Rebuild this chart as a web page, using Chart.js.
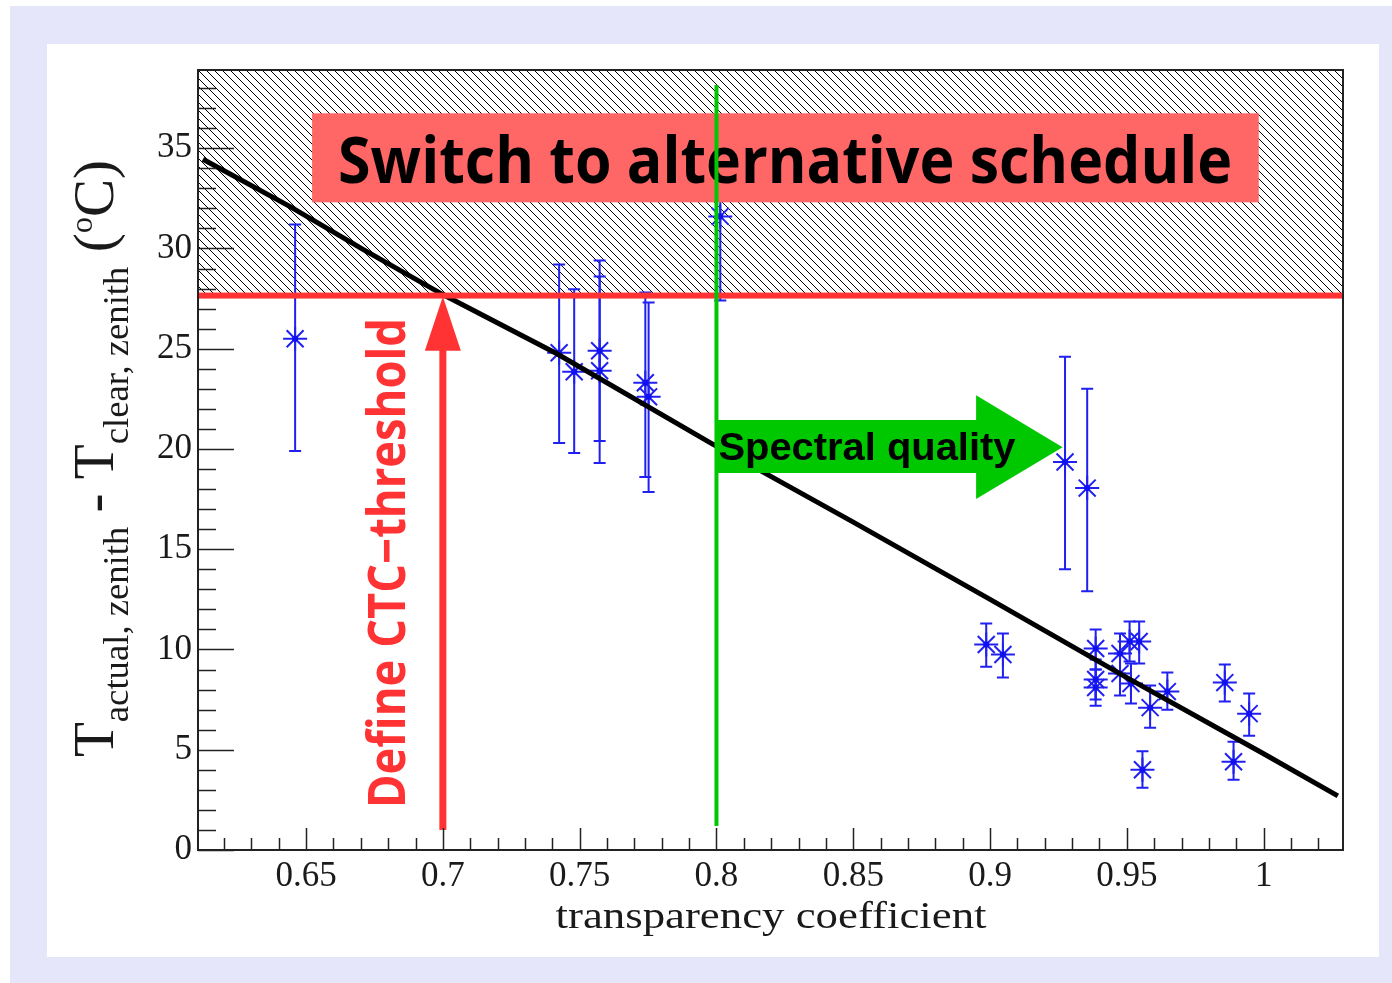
<!DOCTYPE html>
<html>
<head>
<meta charset="utf-8">
<script src="https://cdn.jsdelivr.net/npm/chart.js@4.4.1/dist/chart.umd.min.js"></script>
<style>
  html, body { margin: 0; padding: 0; background: #ffffff; }
  canvas { display: block; }
</style>
</head>
<body>
<canvas id="chart" width="1392" height="983"></canvas>
<script>
// Measured points (transparency coefficient vs temperature difference)
const xValues = [0.646, 0.8014, 0.7425, 0.748, 0.7573, 0.7573, 0.774, 0.7752, 0.9274, 0.9355,
    0.8986, 0.9047, 0.9386, 0.9386, 0.9386, 0.9475, 0.9475, 0.951, 0.9545, 0.9515,
    0.9585, 0.9648, 0.9557, 0.9858, 0.989, 0.9947];
const yValues = [25.5, 31.6, 24.8, 23.85, 24.9, 23.9, 23.3, 22.6, 19.35, 18.05,
    10.25, 9.75, 10.05, 8.5, 8.1, 9.8, 8.8, 10.4, 10.4, 8.3,
    7.1, 7.9, 4.0, 8.35, 4.4, 6.8];
// Error bar ends
const yLow = [19.9, 27.4, 20.3, 19.8, 20.4, 19.3, 18.6, 17.85, 14.0, 12.9,
    9.14, 8.6, 9.0, 7.5, 7.2, 8.8, 7.7, 9.4, 9.3, 7.3,
    6.1, 7.0, 3.1, 7.4, 3.5, 5.7];
const yHigh = [31.2, 35.8, 29.2, 27.97, 29.4, 28.6, 27.8, 27.3, 24.6, 23.0,
    11.3, 10.8, 11.0, 9.5, 9.0, 10.8, 9.8, 11.4, 11.4, 9.3,
    8.2, 8.85, 4.93, 9.25, 5.4, 7.8];

// Fitted curve
const fitX = [0.6123, 0.644, 0.6708, 0.7, 0.7417, 0.7978, 0.85, 0.9, 0.95, 1.0, 1.0271];
const fitY = [34.45, 32.1, 29.95, 27.7, 24.75, 20.3, 16.35, 12.5, 8.6, 4.8, 2.7];

// Axis ticks
const xTicks = [0.65, 0.7, 0.75, 0.8, 0.85, 0.9, 0.95, 1];
const yTicks = [0, 5, 10, 15, 20, 25, 30, 35];

// Annotation values
const ctcThreshold = 27.65;
const ctcX = 0.7;
const spectralX = 0.8;

const serif = '"Liberation Serif", "DejaVu Serif", serif';
const textColor = '#1a1a1a';

function makeHatch() {
    const c = document.createElement('canvas');
    c.width = 8;
    c.height = 8;
    const g = c.getContext('2d');
    g.strokeStyle = '#000';
    g.lineWidth = 1;
    g.beginPath();
    g.moveTo(-1, -1); g.lineTo(9, 9);
    g.moveTo(-1, 7); g.lineTo(1, 9);
    g.moveTo(7, -1); g.lineTo(9, 1);
    g.stroke();
    return c;
}

function fitText(ctx, text, font, x, y, width) {
    ctx.save();
    ctx.font = font;
    const w = ctx.measureText(text).width;
    ctx.translate(x, y);
    ctx.scale(width / w, 1);
    ctx.textAlign = 'left';
    ctx.textBaseline = 'alphabetic';
    ctx.fillText(text, 0, 0);
    ctx.restore();
}

const decorPlugin = {
    id: 'decor',
    beforeDraw(chart) {
        const ctx = chart.ctx;
        ctx.save();
        ctx.fillStyle = '#ffffff';
        ctx.fillRect(0, 0, chart.width, chart.height);
        ctx.fillStyle = '#e6e6fa';
        ctx.fillRect(10, 6, chart.width - 10, chart.height - 6);
        ctx.fillStyle = '#ffffff';
        ctx.fillRect(47, 44, 1332, 913);
        ctx.restore();
    },
    beforeDatasetsDraw(chart) {
        const ctx = chart.ctx;
        const a = chart.chartArea;
        const xs = chart.scales.x, ys = chart.scales.y;
        // hatched region above threshold
        ctx.save();
        ctx.fillStyle = ctx.createPattern(makeHatch(), 'repeat');
        const yt = ys.getPixelForValue(ctcThreshold);
        ctx.fillRect(a.left, a.top, a.right - a.left, yt - a.top);
        ctx.restore();

        // error bars
        ctx.save();
        ctx.strokeStyle = '#2020f0';
        ctx.lineWidth = 2;
        for (let i = 0; i < xValues.length; i++) {
            const px = xs.getPixelForValue(xValues[i]);
            const p0 = ys.getPixelForValue(yLow[i]);
            const p1 = ys.getPixelForValue(yHigh[i]);
            ctx.beginPath();
            ctx.moveTo(px, p0); ctx.lineTo(px, p1);
            ctx.moveTo(px - 6, p0); ctx.lineTo(px + 6, p0);
            ctx.moveTo(px - 6, p1); ctx.lineTo(px + 6, p1);
            ctx.stroke();
        }
        ctx.restore();
    },
    afterDatasetsDraw(chart) {
        const ctx = chart.ctx;
        const a = chart.chartArea;
        const xs = chart.scales.x, ys = chart.scales.y;
        const yt = ys.getPixelForValue(ctcThreshold);

        // red threshold line
        ctx.save();
        ctx.fillStyle = '#ff3333';
        ctx.fillRect(a.left, yt - 3, a.right - a.left, 6);

        // red arrow
        const ax = xs.getPixelForValue(ctcX);
        const headBase = ys.getPixelForValue(24.9);
        ctx.fillRect(ax - 3.5, headBase - 1, 7, ys.getPixelForValue(1.0) - headBase + 1);
        ctx.beginPath();
        ctx.moveTo(ax, yt + 1);
        ctx.lineTo(ax - 18, headBase);
        ctx.lineTo(ax + 18, headBase);
        ctx.closePath();
        ctx.fill();

        // rotated red label
        ctx.save();
        ctx.font = 'bold 52px "Open Sans", "Noto Sans", sans-serif';
        const dw = ctx.measureText('Define CTC\u2212threshold').width;
        ctx.translate(405, 808);
        ctx.rotate(-Math.PI / 2);
        ctx.scale(490 / dw, 1);
        ctx.fillStyle = '#ff3333';
        ctx.textBaseline = 'alphabetic';
        ctx.fillText('Define CTC\u2212threshold', 0, 0);
        ctx.restore();

        // red box
        const bx0 = xs.getPixelForValue(0.6522), bx1 = xs.getPixelForValue(0.9982);
        const by0 = ys.getPixelForValue(36.74), by1 = ys.getPixelForValue(32.3);
        ctx.fillStyle = '#ff6666';
        ctx.fillRect(bx0, by0, bx1 - bx0, by1 - by0);
        ctx.fillStyle = '#000000';
        fitText(ctx, 'Switch to alternative schedule', 'bold 64px "Open Sans", "Noto Sans", sans-serif', bx0 + 26, by0 + 70, 894);

        // green vertical line
        const gx = xs.getPixelForValue(spectralX);
        ctx.fillStyle = '#00c800';
        const gTop = ys.getPixelForValue(38.15), gBot = ys.getPixelForValue(1.2);
        ctx.fillRect(gx - 2, gTop, 4, gBot - gTop);

        // green arrow
        const r0 = xs.getPixelForValue(0.8949), tip = xs.getPixelForValue(0.9265);
        const s0 = ys.getPixelForValue(21.44), s1 = ys.getPixelForValue(18.8);
        const h0 = ys.getPixelForValue(22.68), h1 = ys.getPixelForValue(17.5);
        const ty = ys.getPixelForValue(20.09);
        ctx.beginPath();
        ctx.moveTo(gx, s0);
        ctx.lineTo(r0, s0);
        ctx.lineTo(r0, h0);
        ctx.lineTo(tip, ty);
        ctx.lineTo(r0, h1);
        ctx.lineTo(r0, s1);
        ctx.lineTo(gx, s1);
        ctx.closePath();
        ctx.fill();
        ctx.fillStyle = '#000000';
        fitText(ctx, 'Spectral quality', 'bold 38px "Liberation Sans", Arial, sans-serif', gx + 2, ty + 13, 297);

        // frame
        ctx.strokeStyle = '#222222';
        ctx.lineWidth = 2;
        ctx.strokeRect(a.left, a.top, a.right - a.left, a.bottom - a.top);

        // inside ticks
        ctx.lineWidth = 1.5;
        ctx.beginPath();
        for (let v = 0; v <= 38; v++) {
            const py = Math.round(ys.getPixelForValue(v)) + 0.5;
            const len = v % 5 === 0 ? 36 : 18;
            ctx.moveTo(a.left, py);
            ctx.lineTo(a.left + len, py);
        }
        for (let k = 62; k <= 102; k++) {
            const px = Math.round(xs.getPixelForValue(k / 100)) + 0.5;
            const len = k % 5 === 0 ? 22 : 12;
            ctx.moveTo(px, a.bottom);
            ctx.lineTo(px, a.bottom - len);
        }
        ctx.stroke();

        // x title
        ctx.fillStyle = textColor;
        ctx.save();
        ctx.font = '38px ' + serif;
        const xt = 'transparency coefficient';
        const xw = ctx.measureText(xt).width;
        ctx.translate(771 - 431 / 2, 928);
        ctx.scale(431 / xw, 1);
        ctx.fillText(xt, 0, 0);
        ctx.restore();

        // y title with sub/superscripts
        const segs = [
            { t: 'T', size: 56, dy: 0 },
            { t: 'actual, zenith', size: 36, dy: 15 },
            { t: ' - ', size: 56, dy: 0 },
            { t: 'T', size: 56, dy: 0 },
            { t: 'clear, zenith', size: 36, dy: 15 },
            { t: ' (', size: 56, dy: 0 },
            { t: 'o', size: 32, dy: -21 },
            { t: 'C)', size: 56, dy: 0 }
        ];
        let total = 0;
        segs.forEach(s => {
            ctx.font = s.size + 'px ' + serif;
            s.w = ctx.measureText(s.t).width;
            total += s.w;
        });
        ctx.save();
        ctx.translate(113, 757);
        ctx.rotate(-Math.PI / 2);
        ctx.scale(597 / total, 1);
        let cx = 0;
        segs.forEach(s => {
            ctx.font = s.size + 'px ' + serif;
            ctx.fillText(s.t, cx, s.dy);
            cx += s.w;
        });
        ctx.restore();
        ctx.restore();
    }
};

const pointData = xValues.map((x, i) => ({ x: x, y: yValues[i] }));
const fitData = fitX.map((x, i) => ({ x: x, y: fitY[i] }));

new Chart(document.getElementById('chart'), {
    type: 'scatter',
    data: {
        datasets: [
            {
                label: 'fit',
                data: fitData,
                showLine: true,
                borderColor: '#000000',
                borderWidth: 5,
                pointRadius: 0,
                tension: 0
            },
            {
                label: 'dots',
                data: pointData,
                pointStyle: 'circle',
                pointRadius: 3,
                backgroundColor: '#1010f0',
                borderColor: '#1010f0',
                borderWidth: 0
            },
            {
                label: 'measurements',
                data: pointData,
                pointStyle: 'star',
                pointRadius: 12,
                borderColor: '#2020f0',
                borderWidth: 2
            }
        ]
    },
    options: {
        responsive: false,
        animation: false,
        devicePixelRatio: 1,
        layout: { padding: { left: 0, right: 49, top: 70, bottom: 0 } },
        plugins: {
            legend: { display: false },
            tooltip: { enabled: false }
        },
        scales: {
            x: {
                type: 'linear',
                min: 0.6105,
                max: 1.029,
                afterBuildTicks: s => { s.ticks = xTicks.map(v => ({ value: v })); },
                afterFit: s => { s.height = 133; },
                grid: { display: false, drawTicks: false },
                border: { display: false },
                ticks: {
                    padding: 6,
                    color: textColor,
                    font: { family: serif, size: 35 },
                    callback: v => String(v)
                }
            },
            y: {
                type: 'linear',
                min: 0,
                max: 38.9,
                afterBuildTicks: s => { s.ticks = yTicks.map(v => ({ value: v })); },
                afterFit: s => { s.width = 198; },
                grid: { display: false, drawTicks: false },
                border: { display: false },
                ticks: {
                    padding: 6,
                    color: textColor,
                    font: { family: serif, size: 35 },
                    callback: v => String(v)
                }
            }
        }
    },
    plugins: [decorPlugin]
});
</script>
</body>
</html>
